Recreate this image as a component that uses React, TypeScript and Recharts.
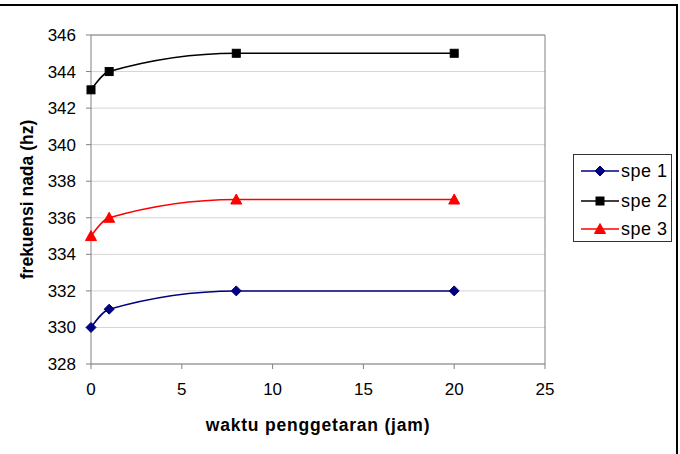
import React from 'react';
import {
  LineChart, Line, XAxis, YAxis, CartesianGrid, ReferenceLine, Label,
} from 'recharts';

const hours = [0, 1, 8, 20];
const spe1 = [330, 331, 332, 332];
const spe2 = [343, 344, 345, 345];
const spe3 = [335, 336, 337, 337];
const xTicks = [0, 5, 10, 15, 20, 25];
const yTicks = [328, 330, 332, 334, 336, 338, 340, 342, 344, 346];

const series = [
  { key: 'spe1', name: 'spe 1', color: '#000080', shape: 'diamond' },
  { key: 'spe2', name: 'spe 2', color: '#000000', shape: 'square' },
  { key: 'spe3', name: 'spe 3', color: '#ff0000', shape: 'triangle' },
];

const data = hours.map((h, i) => ({ x: h, spe1: spe1[i], spe2: spe2[i], spe3: spe3[i] }));

const FONT = '"Liberation Sans", Arial, sans-serif';
const AXIS = '#808080';

function Marker({ shape, cx, cy, color }: { shape: string; cx: number; cy: number; color: string }) {
  if (cx == null || cy == null) return null;
  if (shape === 'diamond') {
    const r = 5;
    return <polygon points={`${cx},${cy - r} ${cx + r},${cy} ${cx},${cy + r} ${cx - r},${cy}`} fill={color} stroke={color} />;
  }
  if (shape === 'square') {
    return <rect x={cx - 4} y={cy - 4} width={8} height={8} fill={color} stroke={color} />;
  }
  return <polygon points={`${cx},${cy - 5.5} ${cx + 5.5},${cy + 4.5} ${cx - 5.5},${cy + 4.5}`} fill={color} stroke={color} />;
}

function LegendBox() {
  return (
    <svg width={97} height={86} style={{ display: 'block' }}>
      {series.map((s, i) => {
        const y = [16, 46, 74][i];
        return (
          <g key={s.key}>
            <line x1={7} x2={45} y1={y} y2={y} stroke={s.color} strokeWidth={1.5} />
            <Marker shape={s.shape} cx={26} cy={y} color={s.color} />
            <text x={47} y={y} dominantBaseline="central" fontFamily={FONT} fontSize={18} letterSpacing={0.5} fill="#000">{s.name}</text>
          </g>
        );
      })}
    </svg>
  );
}

export default function App() {
  return (
    <div style={{ position: 'absolute', left: 0, top: 0, width: 680, height: 454, background: '#fff' }}>
      <LineChart width={680} height={454} data={data} margin={{ top: 35, right: 135, left: 0, bottom: 0 }}>
        <CartesianGrid vertical={false} stroke="#d4d4d4" />
        <XAxis
          dataKey="x" type="number" domain={[0, 25]} ticks={xTicks} height={90}
          stroke={AXIS} tickSize={5} tickMargin={14}
          tick={{ fill: '#000', fontSize: 17, fontFamily: FONT }}
        >
          <Label
            content={(p: any) => {
              const vb = p.viewBox;
              return (
                <text x={vb.x + vb.width / 2} y={425} textAnchor="middle" dominantBaseline="central"
                  fontFamily={FONT} fontWeight="bold" fontSize={17.5} letterSpacing={0.8} fill="#000">waktu penggetaran (jam)</text>
              );
            }}
          />
        </XAxis>
        <YAxis
          type="number" domain={[328, 346]} ticks={yTicks} width={91}
          stroke={AXIS} tickSize={5} tickMargin={10} interval={0}
          tick={{ fill: '#000', fontSize: 17, fontFamily: FONT }}
        >
          <Label
            content={(p: any) => {
              const vb = p.viewBox;
              const cy = vb.y + vb.height / 2;
              return (
                <text x={27} y={cy} textAnchor="middle" dominantBaseline="central" transform={`rotate(-90 27 ${cy})`}
                  fontFamily={FONT} fontWeight="bold" fontSize={17.5} fill="#000">frekuensi nada (hz)</text>
              );
            }}
          />
        </YAxis>
        <ReferenceLine y={346} stroke={AXIS} />
        <ReferenceLine x={25} stroke={AXIS} />
        {series.map((s) => (
          <Line
            key={s.key} dataKey={s.key} name={s.name} type="monotone" stroke={s.color} strokeWidth={1.5}
            isAnimationActive={false}
            dot={(p: any) => <Marker key={`${s.key}-${p.index}`} shape={s.shape} cx={p.cx} cy={p.cy} color={s.color} />}
            activeDot={false}
          />
        ))}
      </LineChart>
      <div style={{ position: 'absolute', left: 573, top: 154, width: 99, height: 88, border: '1px solid #333', boxSizing: 'border-box', background: '#fff' }}>
        <LegendBox />
      </div>
      <div style={{ position: 'absolute', left: 0, top: 4, width: 676, height: 450, borderTop: '2px solid #000', borderRight: '2px solid #000', pointerEvents: 'none' }} />
    </div>
  );
}
